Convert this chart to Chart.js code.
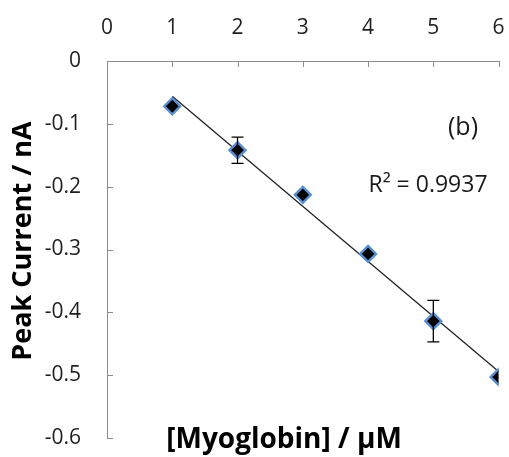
<!DOCTYPE html>
<html><head><meta charset="utf-8">
<script src="https://cdn.jsdelivr.net/npm/chart.js@4/dist/chart.umd.min.js"></script>
<style>html,body{margin:0;padding:0;background:#fff;overflow:hidden;width:509px;height:457px;}#wrap{width:509px;height:457px;overflow:hidden;}canvas{display:block;}</style>
</head><body><div id="wrap"><canvas id="c" width="509" height="457"></canvas></div>
<script>
const concentrations = [1, 2, 3, 4, 5, 6];
const peakCurrent = [-0.072, -0.142, -0.213, -0.307, -0.414, -0.503];
const errorValues = [0, 0.021, 0, 0, 0.033, 0];
const xTicks = [0, 1, 2, 3, 4, 5, 6];
const yTicks = [0, -0.1, -0.2, -0.3, -0.4, -0.5, -0.6];
const r2Label = 'R² = 0.9937';
const panelLabel = '(b)';
const xTitle = '[Myoglobin] / µM';
const yTitle = 'Peak Current / nA';

// least-squares trendline from data
const n = concentrations.length;
const mx = concentrations.reduce((a,b)=>a+b,0)/n;
const my = peakCurrent.reduce((a,b)=>a+b,0)/n;
let sxy=0, sxx=0;
for (let i=0;i<n;i++){ sxy+=(concentrations[i]-mx)*(peakCurrent[i]-my); sxx+=(concentrations[i]-mx)**2; }
const slope = sxy/sxx, intercept = my - slope*mx;
const xs = [concentrations[0], concentrations[n-1]];
const trend = xs.map(x=>({x:x, y:intercept+slope*x}));

const FONT = "'Open Sans', 'Liberation Sans', sans-serif";

function zeroPad(s){ s.paddingLeft = 0; s.paddingRight = 0; s.paddingTop = 0; s.paddingBottom = 0; }

const extras = {
  id:'extras',
  afterDatasetsDraw(chart){
    const ctx = chart.ctx, xS = chart.scales.x, yS = chart.scales.y;
    ctx.save();
    ctx.strokeStyle = '#000'; ctx.lineWidth = 1.3;
    for (let i=0;i<n;i++){
      if (!errorValues[i]) continue;
      const px = xS.getPixelForValue(concentrations[i]);
      const y1 = yS.getPixelForValue(peakCurrent[i]+errorValues[i]);
      const y2 = yS.getPixelForValue(peakCurrent[i]-errorValues[i]);
      ctx.beginPath();
      ctx.moveTo(px,y1); ctx.lineTo(px,y2);
      ctx.moveTo(px-6,y1); ctx.lineTo(px+6,y1);
      ctx.moveTo(px-6,y2); ctx.lineTo(px+6,y2);
      ctx.stroke();
    }
    ctx.restore();
  },
  afterDraw(chart){
    const ctx = chart.ctx, xS = chart.scales.x, yS = chart.scales.y, ca = chart.chartArea;
    ctx.save();
    ctx.strokeStyle = '#8c8c8c'; ctx.lineWidth = 1;
    ctx.beginPath();
    xTicks.forEach(v=>{ if(v===0) return; const px=Math.round(xS.getPixelForValue(v))+0.5; ctx.moveTo(px,ca.top); ctx.lineTo(px,ca.top+6); });
    yTicks.forEach(v=>{ if(v===0) return; const py=Math.round(yS.getPixelForValue(v))+0.5; ctx.moveTo(ca.left,py); ctx.lineTo(ca.left+6,py); });
    ctx.stroke();
    ctx.fillStyle = '#1a1a1a';
    ctx.textAlign='center'; ctx.textBaseline='middle';
    ctx.font = "25px " + FONT;
    ctx.fillText(panelLabel, 463, 128);
    ctx.font = "23px " + FONT;
    ctx.fillText(r2Label, 428, 185);
    ctx.fillStyle = '#000';
    ctx.font = "bold 28px " + FONT;
    ctx.fillText(xTitle, 284, 440);
    ctx.font = "bold 27px " + FONT;
    ctx.translate(23, 241);
    ctx.rotate(-Math.PI/2);
    ctx.fillText(yTitle, 0, 0);
    ctx.restore();
  }
};

new Chart(document.getElementById('c'), {
  type:'scatter',
  data:{
    datasets:[
      {
        label:'trend', data:trend, showLine:true, borderColor:'#222', borderWidth:1.3,
        pointRadius:0, fill:false, order:2
      },
      {
        label:'data', data:concentrations.map((x,i)=>({x:x,y:peakCurrent[i]})),
        pointStyle:'rectRot', pointRadius:8, pointHoverRadius:8,
        backgroundColor:'#000', borderColor:'#5a8fcf', borderWidth:2.4, order:1
      }
    ]
  },
  plugins:[extras],
  options:{
    responsive:false, animation:false, devicePixelRatio:1,
    layout:{padding:{left:0, right:10, top:0, bottom:19}},
    plugins:{legend:{display:false}, tooltip:{enabled:false}},
    scales:{
      x:{
        type:'linear', position:'top', min:0, max:6,
        afterBuildTicks(s){ s.ticks = xTicks.map(v=>({value:v})); },
        afterFit(s){ s.height = 61; zeroPad(s); },
        grid:{drawOnChartArea:false, drawTicks:false},
        border:{display:true, color:'#8c8c8c', width:1},
        ticks:{color:'#1f1f1f', padding:20, font:{family:FONT, size:21}, maxRotation:0}
      },
      y:{
        type:'linear', min:-0.6, max:0,
        afterBuildTicks(s){ s.ticks = yTicks.map(v=>({value:v})); },
        afterFit(s){ s.width = 107; zeroPad(s); },
        grid:{drawOnChartArea:false, drawTicks:false},
        border:{display:true, color:'#8c8c8c', width:1},
        ticks:{color:'#1f1f1f', padding:26, font:{family:FONT, size:21},
          callback:(v)=>String(Math.round(v*10)/10)}
      }
    }
  }
});
</script></body></html>
